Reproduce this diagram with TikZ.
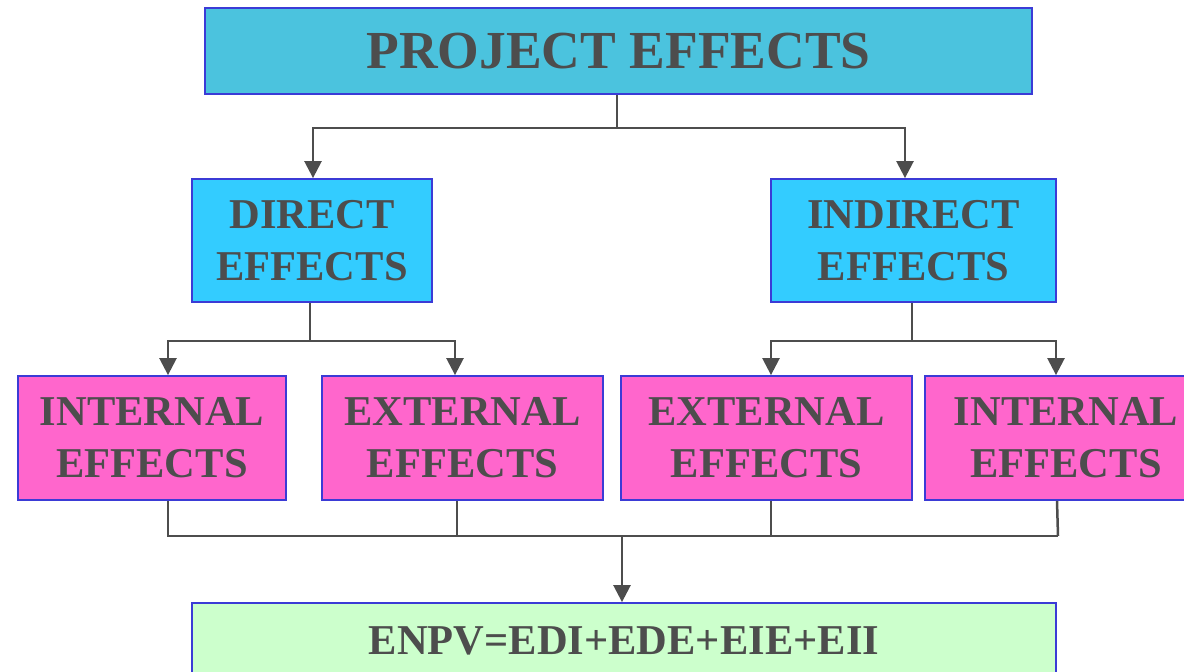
\documentclass[tikz,border=0pt]{standalone}
\usepackage{fontspec}
\setmainfont{Liberation Serif}
\usetikzlibrary{arrows.meta}
\definecolor{topc}{HTML}{4BC3DE}
\definecolor{bluec}{HTML}{33CCFF}
\definecolor{pinkc}{HTML}{FF66CC}
\definecolor{greenc}{HTML}{CCFFCC}
\definecolor{edgec}{HTML}{3B3BD6}
\definecolor{txtc}{HTML}{4D4D4D}
\tikzset{
  box/.style={draw=edgec, line width=1.8pt, text=txtc, font=\bfseries\fontsize{42.5}{52}\selectfont, align=center, inner sep=0pt},
  ln/.style={draw=txtc, line width=2.5pt},
  arr/.style={ln, -{Triangle[width=17pt,length=17pt]}},
}
\begin{document}
\begin{tikzpicture}[x=1pt,y=-1pt]
\useasboundingbox (0,0) rectangle (1184,672);
\clip (0,0) rectangle (1184,672);
\node[box, fill=topc, minimum width=827pt, minimum height=86pt, font=\bfseries\fontsize{53.5}{60}\selectfont] (top) at (618.5,51) {PROJECT EFFECTS};
\node[box, fill=bluec, minimum width=240pt, minimum height=123pt] (dir) at (312,240.5) {DIRECT\\EFFECTS};
\node[box, fill=bluec, minimum width=285pt, minimum height=123pt] (ind) at (913.5,240.5) {INDIRECT\\EFFECTS};
\node[box, fill=pinkc, minimum width=268pt, minimum height=124pt] (p1) at (152,438) {INTERNAL\\EFFECTS};
\node[box, fill=pinkc, minimum width=281pt, minimum height=124pt] (p2) at (462.5,438) {EXTERNAL\\EFFECTS};
\node[box, fill=pinkc, minimum width=291pt, minimum height=124pt] (p3) at (766.5,438) {EXTERNAL\\EFFECTS};
\node[box, fill=pinkc, minimum width=282pt, minimum height=124pt] (p4) at (1066,438) {INTERNAL\\EFFECTS};
\node[box, fill=greenc, minimum width=864pt, minimum height=76pt, font=\bfseries\fontsize{42.5}{48}\selectfont] (enpv) at (624,641) {ENPV=EDI+EDE+EIE+EII};
% top split
\coordinate (j1) at (617,128);
\draw[ln] ([xshift=-1.5pt]top.south) -- (j1);
\draw[arr] (j1) -| ([xshift=1pt]dir.north);
\draw[arr] (j1) -| ([xshift=-8.5pt]ind.north);
% direct split
\coordinate (j2) at (310,341);
\draw[ln] ([xshift=-2pt]dir.south) -- (j2);
\draw[arr] (j2) -| ([xshift=16pt]p1.north);
\draw[arr] (j2) -| ([xshift=-7.5pt]p2.north);
% indirect split
\coordinate (j3) at (912,341);
\draw[ln] ([xshift=-1.5pt]ind.south) -- (j3);
\draw[arr] (j3) -| ([xshift=4.5pt]p3.north);
\draw[arr] (j3) -| ([xshift=-10pt]p4.north);
% merge
\coordinate (m1) at (168,536);
\coordinate (m4) at (1058,536);
\coordinate (mc) at (622,536);
\draw[ln] ([xshift=16pt]p1.south) |- (m1) -- (m4);
\draw[ln] ([xshift=-9pt]p4.south) -- (m4);
\draw[ln] ([xshift=-5.5pt]p2.south) -- ++(0,36);
\draw[ln] ([xshift=4.5pt]p3.south) -- ++(0,36);
\draw[arr] (mc) -- ([xshift=-2pt]enpv.north);
\end{tikzpicture}
\end{document}
